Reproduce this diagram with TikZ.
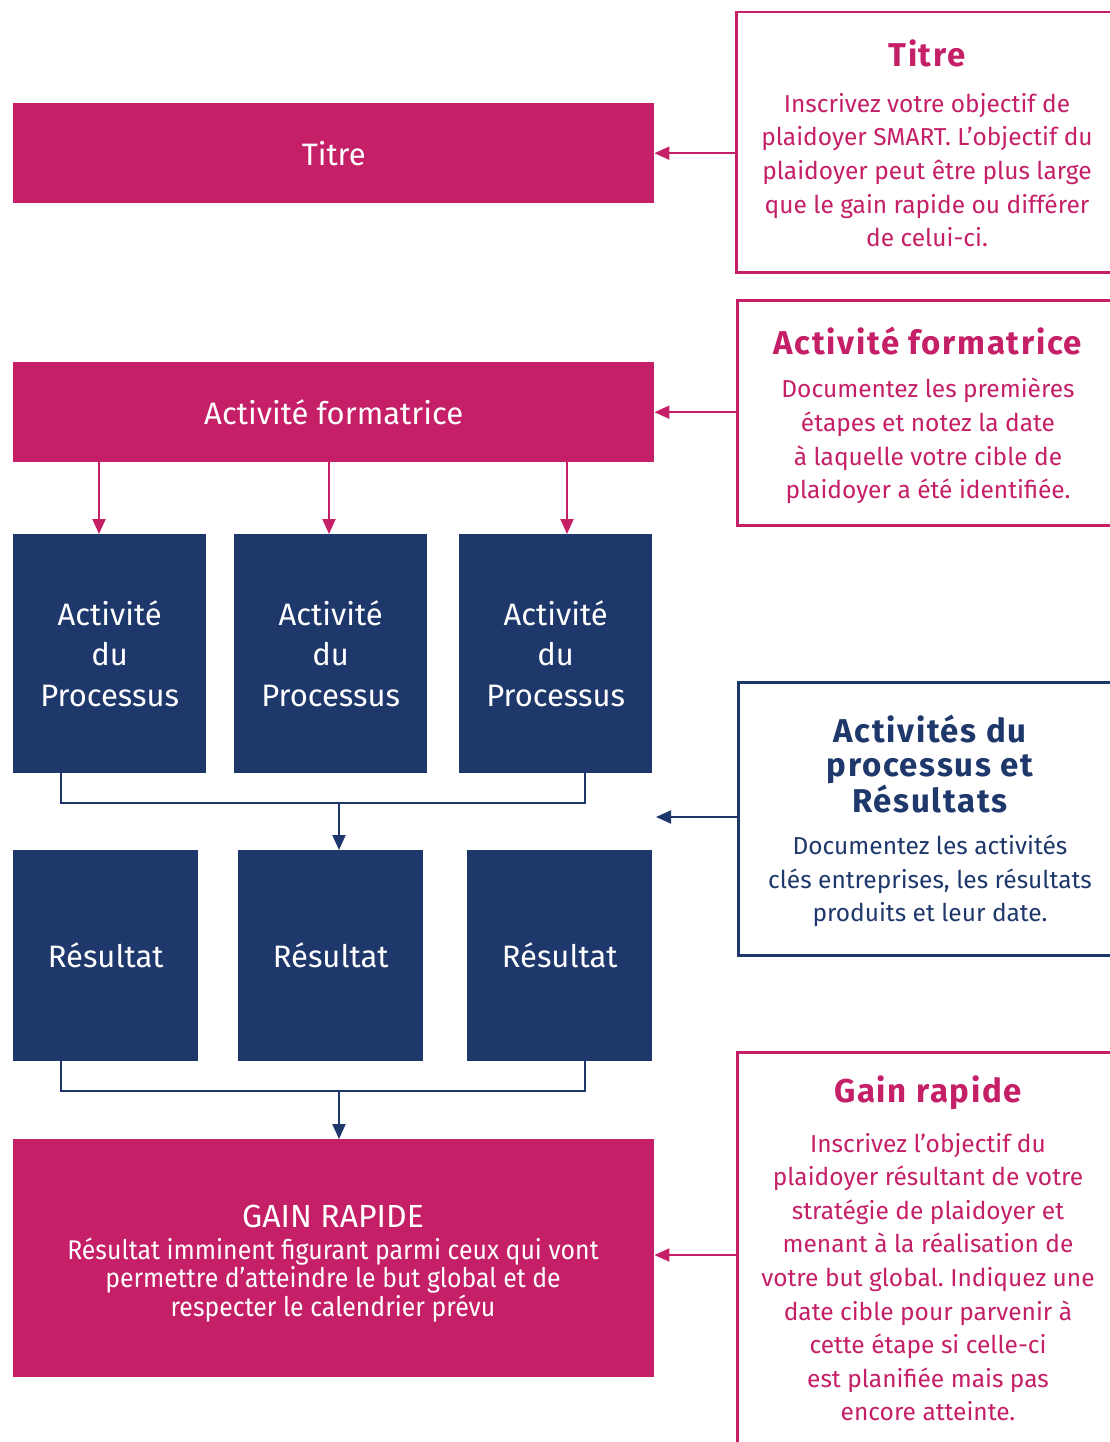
\documentclass[tikz,border=0pt]{standalone}
\usepackage{fontspec}
\setmainfont{Fira Sans}
\newfontfamily\narrowf[FakeStretch=0.92]{Fira Sans}
\newfontfamily\titlef[LetterSpace=5]{Fira Sans}
\usetikzlibrary{arrows.meta,calc}
\frenchspacing
\definecolor{mag}{HTML}{C51F68}
\definecolor{navy}{HTML}{1F386B}
\tikzset{
  magbar/.style={fill=mag, draw=none, text=white, inner sep=0pt, anchor=north west, align=center},
  navybox/.style={fill=navy, draw=none, text=white, inner sep=0pt, anchor=north west, align=center,
     font=\fontsize{31}{40.5}\selectfont},
  magframe/.style={draw=mag, line width=2.5pt, fill=none, inner sep=0pt, anchor=north west, minimum width=420pt},
  navyframe/.style={draw=navy, line width=2.5pt, fill=none, inner sep=0pt, anchor=north west, minimum width=420pt},
  magtitle/.style={text=mag, font=\titlef\fontsize{33}{35}\selectfont\bfseries, align=center, inner sep=0pt},
  navytitle/.style={text=navy, font=\titlef\fontsize{33}{34.5}\selectfont\bfseries, align=center, inner sep=0pt},
  magtext/.style={text=mag, font=\fontsize{24.5}{33.6}\selectfont, align=center, inner sep=0pt},
  navytext/.style={text=navy, font=\fontsize{24.5}{33.3}\selectfont, align=center, inner sep=0pt},
  magarrow/.style={draw=mag, line width=2pt, -{Triangle[length=15pt,width=13pt]}},
  navyarrow/.style={draw=navy, line width=2pt, -{Triangle[length=15pt,width=13pt]}},
  navyline/.style={draw=navy, line width=2pt},
}
\begin{document}
\begin{tikzpicture}[x=1pt,y=-1pt]
\clip (0,0) rectangle (1110,1442);
\fill[white] (0,0) rectangle (1110,1442);

% left column
\node[magbar, minimum width=641pt, minimum height=100pt, font=\fontsize{31}{34}\selectfont] (titre) at (13,103) {Titre};
\node[magbar, minimum width=641pt, minimum height=100pt, font=\fontsize{31}{34}\selectfont] (form) at (13,362) {Activité formatrice};

\node[navybox, minimum width=193pt, minimum height=239pt] (p1) at (13,534) {Activité\\du\\Processus};
\node[navybox, minimum width=193pt, minimum height=239pt] (p2) at (234,534) {Activité\\du\\Processus};
\node[navybox, minimum width=193pt, minimum height=239pt] (p3) at (459,534) {Activité\\du\\Processus};

\node[navybox, minimum width=185pt, minimum height=211pt] (r1) at (13,850) {Résultat};
\node[navybox, minimum width=185pt, minimum height=211pt] (r2) at (238,850) {Résultat};
\node[navybox, minimum width=185pt, minimum height=211pt] (r3) at (467,850) {Résultat};

\node[magbar, minimum width=641pt, minimum height=238pt] (gain) at (13,1139) {};
\node[text=white, inner sep=0pt, font=\fontsize{32}{34}\selectfont] (gaint) at (333,1216) {GAIN RAPIDE};
\node[text=white, inner sep=0pt, align=center, font=\narrowf\fontsize{27}{28.2}\selectfont] (gainb) at (333,1280)
  {Résultat imminent figurant parmi ceux qui vont\\permettre d’atteindre le but global et de\\respecter le calendrier prévu};

% connectors left
\draw[magarrow] (form.south -| 99,0) -- (p1.north -| 99,0);
\draw[magarrow] (form.south -| 329,0) -- (p2.north -| 329,0);
\draw[magarrow] (form.south -| 567,0) -- (p3.north -| 567,0);

\coordinate (b1) at (339,803);
\draw[navyline] (p1.south -| 61,0) |- (b1) -| (p3.south -| 585,0);
\draw[navyarrow] (b1) -- (r2.north -| b1);

\coordinate (b2) at (339,1091);
\draw[navyline] (r1.south -| 61,0) |- (b2) -| (r3.south -| 585,0);
\draw[navyarrow] (b2) -- (gain.north -| b2);

% right column
\node[magframe, minimum height=260pt] (boxA) at (735,11) {};
\node[magtitle] (boxAt) at (927,53) {Titre};
\node[magtext] (boxAb) at (927,170) {Inscrivez votre objectif de\\plaidoyer SMART. L’objectif du\\plaidoyer peut être plus large\\que le gain rapide ou différer\\de celui-ci.};

\node[magframe, minimum height=225pt] (boxB) at (736,299) {};
\node[magtitle] (boxBt) at (928,341) {Activité formatrice};
\node[magtext] (boxBb) at (928,441) {Documentez les premières\\étapes et notez la date\\à laquelle votre cible de\\plaidoyer a été identifiée.};

\node[navyframe, minimum height=273pt] (boxC) at (737,681) {};
\node[navytitle] (boxCt) at (930,764) {Activités du\\processus et\\Résultats};
\node[navytext] (boxCb) at (930,881) {Documentez les activités\\clés entreprises, les résultats\\produits et leur date.};

\node[magframe, minimum height=420pt] (boxD) at (736,1051) {};
\node[magtitle] (boxDt) at (928,1093) {Gain rapide};
\node[magtext] (boxDb) at (928,1277) {Inscrivez l’objectif du\\plaidoyer résultant de votre\\stratégie de plaidoyer et\\menant à la réalisation de\\votre but global. Indiquez une\\date cible pour parvenir à\\cette étape si celle-ci\\est planifiée mais pas\\encore atteinte.};

% connectors right
\draw[magarrow] (boxA.west |- titre.east) -- (titre.east);
\draw[magarrow] (boxB.west |- form.east) -- (form.east);
\coordinate (cfree) at (656,817);
\draw[navyarrow] (boxC.west |- cfree) -- (cfree);
\draw[magarrow] (boxD.west |- 0,1255) -- (gain.east |- 0,1255);
\end{tikzpicture}
\end{document}
